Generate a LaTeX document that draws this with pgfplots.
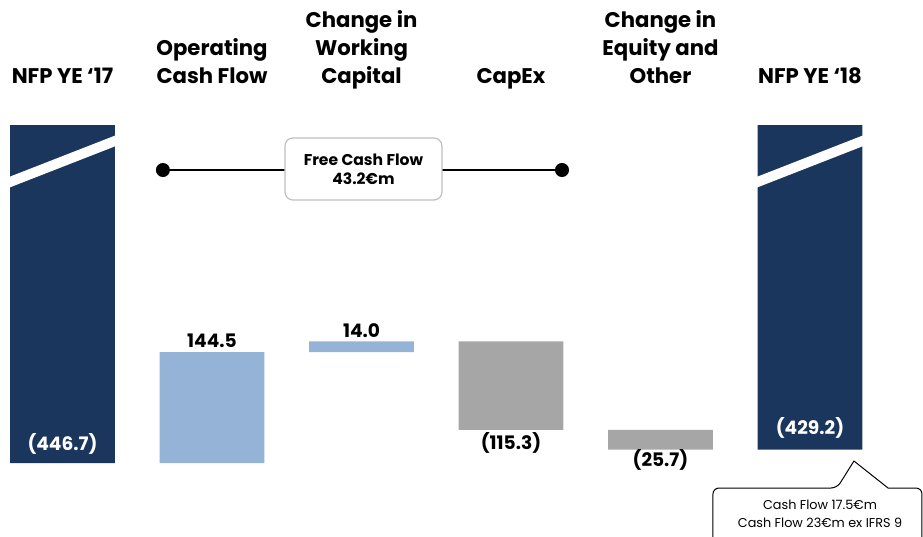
\documentclass[border=0pt]{standalone}
\usepackage{fontspec}
\setmainfont{Poppins}
\usepackage{pgfplots}
\pgfplotsset{compat=1.18}
\usetikzlibrary{arrows.meta}
\definecolor{navy}{RGB}{27,54,93}
\definecolor{lblue}{RGB}{149,179,215}
\definecolor{mgrey}{RGB}{166,166,166}
\definecolor{pwhite}{RGB}{255,255,255}
\begin{document}
\begin{tikzpicture}[
  hdr/.style={anchor=south, inner sep=0pt, align=center, font=\fontsize{10.6}{14}\selectfont\bfseries},
  vlab/.style={anchor=base, inner sep=0pt, font=\fontsize{9.3}{11}\selectfont\bfseries},
]
\begin{axis}[
  scale only axis, width=461.5pt, height=268pt,
  xmin=-0.418, xmax=5.756, ymin=-95.05, ymax=602.86,
  hide axis, clip=false,
  ybar stacked, bar width=0.702,
]
% invisible base of the waterfall
\addplot[draw=none, fill=none] coordinates {(0,0) (1,0) (2,144.5) (3,43.2) (4,17.5) (5,17.5)};
% NFP bars (broken)
\addplot[draw=none, fill=navy] coordinates {(0,440) (1,0) (2,0) (3,0) (4,0) (5,422.5)};
% positive contributions
\addplot[draw=none, fill=lblue] coordinates {(0,0) (1,144.5) (2,14.0) (3,0) (4,0) (5,0)};
% negative contributions
\addplot[draw=none, fill=mgrey] coordinates {(0,0) (1,0) (2,0) (3,115.3) (4,25.7) (5,0)};

\coordinate (s1a) at (axis cs:-0.40,362.2);
\coordinate (s1b) at (axis cs:0.40,423.0);
\coordinate (s2a) at (axis cs:4.60,362.2);
\coordinate (s2b) at (axis cs:5.40,423.0);
\coordinate (h0) at (axis cs:0,482.6);
\coordinate (h1) at (axis cs:1,482.6);
\coordinate (h2) at (axis cs:2,482.6);
\coordinate (h3) at (axis cs:3,482.6);
\coordinate (h4) at (axis cs:4,482.6);
\coordinate (h5) at (axis cs:5,482.6);
\coordinate (v0) at (axis cs:0,16.9);
\coordinate (v1) at (axis cs:1,151.0);
\coordinate (v2) at (axis cs:2,162.8);
\coordinate (v3) at (axis cs:3,18.2);
\coordinate (v4) at (axis cs:4,-4.5);
\coordinate (v5) at (axis cs:5,36.5);
\coordinate (f1) at (axis cs:0.625,381.5);
\coordinate (f2) at (axis cs:3.388,381.5);
\coordinate (fb) at (axis cs:2.013,382.8);
\coordinate (c1) at (axis cs:4.351,-110);
\coordinate (c2) at (axis cs:4.351,-32.55);
\coordinate (c3) at (axis cs:5.181,-32.55);
\coordinate (c4) at (axis cs:5.294,2.6);
\coordinate (c5) at (axis cs:5.522,-32.55);
\coordinate (c6) at (axis cs:5.749,-32.55);
\coordinate (c7) at (axis cs:5.749,-110);
\coordinate (t1) at (axis cs:5.067,-60.5);
\coordinate (t2) at (axis cs:5.067,-84.6);
\end{axis}

% break stripes
\draw[pwhite, line width=5pt] (s1a) -- (s1b);
\draw[pwhite, line width=5pt] (s2a) -- (s2b);

% headers
\node[hdr] at (h0) {NFP YE ‘17\strut};
\node[hdr] at (h1) {Operating\\Cash Flow\strut};
\node[hdr] at (h2) {Change in\\Working\\Capital\strut};
\node[hdr] at (h3) {CapEx\strut};
\node[hdr] at (h4) {Change in\\Equity and\\Other\strut};
\node[hdr] at (h5) {NFP YE ‘18\strut};

% value labels
\node[vlab, text=pwhite] at (v0) {(446.7)};
\node[vlab] at (v1) {144.5};
\node[vlab] at (v2) {14.0};
\node[vlab] at (v3) {(115.3)};
\node[vlab] at (v4) {(25.7)};
\node[vlab, text=pwhite] at (v5) {(429.2)};

% free cash flow bracket
\draw[line width=1pt, {Circle[length=7pt]}-{Circle[length=7pt]}] (f1) -- (f2);
\node[draw=black!25, line width=0.6pt, fill=pwhite, rounded corners=4pt, minimum width=78.5pt, minimum height=31pt, align=center, font=\fontsize{7.8}{9.4}\selectfont\bfseries] at (fb) {Free Cash Flow\\43.2€m};

% callout
\draw[line width=0.5pt, fill=pwhite] (c1) [rounded corners=3pt] -- (c2) -- (c3) [sharp corners] -- (c4) -- (c5) [rounded corners=3pt] -- (c6) -- (c7);
\node[anchor=base, inner sep=0pt, font=\fontsize{6.4}{9}\selectfont] at (t1) {Cash Flow 17.5€m};
\node[anchor=base, inner sep=0pt, font=\fontsize{6.4}{9}\selectfont] at (t2) {Cash Flow 23€m ex IFRS 9};

\pgfresetboundingbox
\useasboundingbox (current axis.south west) rectangle (current axis.north east);
\end{tikzpicture}
\end{document}
